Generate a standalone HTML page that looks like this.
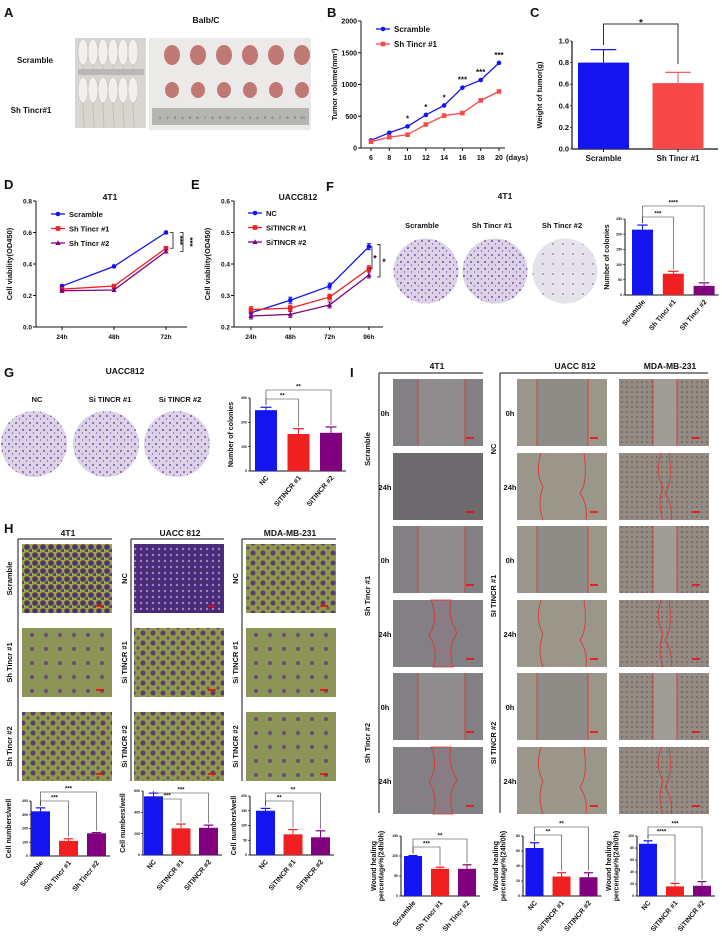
<!DOCTYPE html>
<html><head><meta charset="utf-8">
<style>
html,body{margin:0;padding:0;background:#fff;}
svg{display:block;font-family:"Liberation Sans",Arial,sans-serif;}
text{font-weight:bold;fill:#111;}
</style></head>
<body>
<svg id="fig" width="722" height="939" viewBox="0 0 722 939" xmlns="http://www.w3.org/2000/svg">
<defs>
<pattern id="dots" width="7" height="7" patternUnits="userSpaceOnUse"><rect width="7" height="7" fill="#dcd2e6"/><circle cx="2" cy="3" r="0.9" fill="#5a2a9a"/><circle cx="5.5" cy="6" r="0.6" fill="#6a3aaa"/></pattern>
<pattern id="dotsSparse" width="10" height="10" patternUnits="userSpaceOnUse"><rect width="10" height="10" fill="#e6e2ea"/><circle cx="3" cy="4" r="0.7" fill="#6a4aa0"/></pattern>
<pattern id="cellsDense" width="8" height="8" patternUnits="userSpaceOnUse"><rect width="8" height="8" fill="#8fae3a"/><circle cx="3" cy="3" r="2.8" fill="#5a2a7a"/><circle cx="7" cy="7" r="2.2" fill="#6a3a8a"/></pattern>
<pattern id="cellsMid" width="10" height="10" patternUnits="userSpaceOnUse"><rect width="10" height="10" fill="#8e9a4a"/><circle cx="3" cy="3" r="2.5" fill="#5c3a7a"/><circle cx="8" cy="8" r="1.6" fill="#6a4a80"/></pattern>
<pattern id="cellsSparse" width="14" height="14" patternUnits="userSpaceOnUse"><rect width="14" height="14" fill="#8c9458"/><circle cx="4" cy="5" r="2" fill="#6a4a78"/></pattern>
<pattern id="cellsPurple" width="6" height="6" patternUnits="userSpaceOnUse"><rect width="6" height="6" fill="#4a2a7a"/><circle cx="3" cy="3" r="1.2" fill="#9a8ab0"/></pattern>
<pattern id="speck" width="5" height="5" patternUnits="userSpaceOnUse"><rect width="5" height="5" fill="#948c84"/><circle cx="2" cy="2" r="0.8" fill="#5a5048"/></pattern>
</defs>
<g id="root"></g>
</svg>
<script>
// ---------- DATA ----------
const bDays = [6,8,10,12,14,16,18,20];
const bScramble = [120,240,340,520,670,950,1070,1340];
const bSh = [100,170,210,370,510,550,750,890];
const bStars = ["","","*","*","*","***","***","***"];
const bYTicks = [0,500,1000,1500,2000];

const cCats = ["Scramble","Sh Tincr #1"];
const cVals = [0.80,0.61];
const cErr = [0.12,0.10];
const cTicks = ["0.0","0.2","0.4","0.6","0.8","1.0"];

const dCats = ["24h","48h","72h"];
const dScramble = [0.26,0.385,0.60];
const dSh1 = [0.24,0.26,0.50];
const dSh2 = [0.23,0.235,0.48];
const dTicks = ["0.0","0.2","0.4","0.6","0.8"];

const eCats = ["24h","48h","72h","96h"];
const eNC = [0.245,0.285,0.33,0.455];
const eSi1 = [0.255,0.26,0.295,0.385];
const eSi2 = [0.235,0.24,0.27,0.365];
const eTicks = ["0.2","0.3","0.4","0.5","0.6"];

const fCats = ["Scramble","Sh Tincr #1","Sh Tincr #2"];
const fVals = [215,70,30];
const fErr = [15,8,10];
const fTicks = [0,50,100,150,200,250];

const gCats = ["NC","SiTINCR #1","SiTINCR #2"];
const gVals = [250,152,157];
const gErr = [12,22,24];
const gTicks = [0,100,200,300];

const h1Cats = ["Scramble","Sh Tincr #1","Sh Tincr #2"];
const h1Vals = [325,110,165];
const h1Err = [25,15,5];
const h1Ticks = [0,100,200,300,400];
const h2Cats = ["NC","SiTINCR #1","SiTINCR #2"];
const h2Vals = [550,250,255];
const h2Err = [30,40,25];
const h2Ticks = [0,200,400,600];
const h3Cats = ["NC","SiTINCR #1","SiTINCR #2"];
const h3Vals = [150,70,60];
const h3Err = [8,16,22];
const h3Ticks = [0,50,100,150,200];

const i1Cats = ["Scramble","Sh Tincr #1","Sh Tincr #2"];
const i1Vals = [100,68,68];
const i1Err = [1,4,10];
const i1Ticks = [0,50,100,150];
const i2Cats = ["NC","SiTINCR #1","SiTINCR #2"];
const i2Vals = [64,26,25];
const i2Err = [7,5,6];
const i2Ticks = [0,20,40,60,80];
const i3Cats = ["NC","SiTINCR #1","SiTINCR #2"];
const i3Vals = [87,16,17];
const i3Err = [5,5,7];
const i3Ticks = [0,20,40,60,80,100];

const BLUE="#1414f0", RED="#f02020", PURPLE="#800080", LRED="#f84848";
const NS="http://www.w3.org/2000/svg";
const root=document.getElementById('root');
function el(tag,attrs,parent,txt){const e=document.createElementNS(NS,tag);for(const k in attrs)e.setAttribute(k,attrs[k]);if(txt!==undefined)e.textContent=txt;(parent||root).appendChild(e);return e;}
function grp(name,parent){const g=el('g',{},parent);


return g;}
function txt(g,x,y,s,size,anchor,extra){const t=el('text',Object.assign({x:x,y:y,'font-size':size,'text-anchor':anchor||'middle'},extra||{}),g,s);return t;}
function line(g,x1,y1,x2,y2,c,w){return el('line',{x1,x2,y1,y2,stroke:c||'#111','stroke-width':w||1},g);}

// panel letters
[["A",4,17],["B",327,17],["C",530,17],["D",4,189],["E",191,189],["F",326,191],["G",4,377],["H",4,533],["I",350,377]].forEach(p=>{
 const t=txt(root,p[1],p[2],p[0],13,'start');
 
 
});

// ---------- Panel A (photos) ----------
(function(){
 const g=grp('panel-a-photos');
 txt(g,206,23,"Balb/C",8.5);
 txt(g,35,63,"Scramble",8);
 txt(g,31,113,"Sh Tincr#1",8);
 const m=el('rect',{x:75,y:38,width:71,height:90,fill:'#d9d6d2'},g);
 
 
 for(let r=0;r<2;r++)for(let i=0;i<6;i++){el('ellipse',{cx:83+i*10,cy:52+r*38,rx:5,ry:13,fill:'#f2f0ec',stroke:'#aaa','stroke-width':0.4},g);el('line',{x1:83+i*10,y1:65+r*38,x2:84+i*10,y2:(r?128:76),stroke:'#c8b8b0','stroke-width':0.8},g);}
 el('rect',{x:78,y:69,width:66,height:6,fill:'#b8b8b8'},g);
 const t=el('rect',{x:149,y:38,width:162,height:92,fill:'#eceae8'},g);
 
 
 for(let r=0;r<2;r++)for(let i=0;i<6;i++){el('ellipse',{cx:172+i*26,cy:r?90:55,rx:r?7:8,ry:r?8:10,fill:'#c07874'},g);}
 el('rect',{x:152,y:108,width:157,height:17,fill:'#b4b4b0'},g);
 for(let i=0;i<20;i++)txt(g,160+i*7.5,119,String((i%10)+1),4,'middle',{style:'font-weight:normal;fill:#555'});
})();

// ---------- Line chart helper ----------
function lineChart(name,opt){
 const g=grp(name);
 const ys=v=>opt.y0-(v-opt.vmin)/(opt.vmax-opt.vmin)*(opt.y0-opt.yTop);
 const xs=i=>opt.xFirst+i*opt.xStep;
 line(g,opt.axX,opt.yTop,opt.axX,opt.y0);
 line(g,opt.axX,opt.y0,opt.axEnd,opt.y0);
 opt.ticks.forEach((tk,i)=>{const v=opt.vmin+i*(opt.vmax-opt.vmin)/(opt.ticks.length-1);const y=ys(v);line(g,opt.axX-3,y,opt.axX,y);txt(g,opt.axX-4,y+2.5,tk,opt.tfs||7,'end');});
 opt.cats.forEach((c,i)=>{line(g,xs(i),opt.y0,xs(i),opt.y0+3);txt(g,xs(i),opt.y0+12,c,opt.tfs||7.5);});
 if(opt.xExtra) opt.xExtra.forEach(x=>line(g,x,opt.y0,x,opt.y0+3));
 opt.series.forEach(s=>{
  const sg=grp('series-'+s.key,g);
  const pts=s.vals.map((v,i)=>xs(i)+','+ys(v)).join(' ');
  el('polyline',{points:pts,fill:'none',stroke:s.color,'stroke-width':1.3},sg);
  s.vals.forEach((v,i)=>{
   if(s.err){line(sg,xs(i),ys(v)-s.err,xs(i),ys(v)+s.err,s.color,1);line(sg,xs(i)-2,ys(v)-s.err,xs(i)+2,ys(v)-s.err,s.color,1);line(sg,xs(i)-2,ys(v)+s.err,xs(i)+2,ys(v)+s.err,s.color,1);}
   let m;
   if(s.shape==='sq') m=el('rect',{x:xs(i)-2.3,y:ys(v)-2.3,width:4.6,height:4.6,fill:s.color},sg);
   else if(s.shape==='tri') m=el('polygon',{points:`${xs(i)},${ys(v)-2.8} ${xs(i)-2.6},${ys(v)+2} ${xs(i)+2.6},${ys(v)+2}`,fill:s.color},sg);
   else m=el('circle',{cx:xs(i),cy:ys(v),r:2.3,fill:s.color},sg);
   
   
  });
 });
 // legend
 opt.series.forEach((s,i)=>{
  const ly=opt.legY+i*opt.legStep;
  const lg=grp('legend-entry-'+s.key,g);
  line(lg,opt.legX-7,ly,opt.legX+7,ly,s.color,1.3);
  if(s.shape==='sq') el('rect',{x:opt.legX-2.3,y:ly-2.3,width:4.6,height:4.6,fill:s.color},lg);
  else if(s.shape==='tri') el('polygon',{points:`${opt.legX},${ly-2.8} ${opt.legX-2.6},${ly+2} ${opt.legX+2.6},${ly+2}`,fill:s.color},lg);
  else el('circle',{cx:opt.legX,cy:ly,r:2.3,fill:s.color},lg);
  txt(lg,opt.legX+11,ly+3,s.label,opt.lfs||8,'start');
 });
 const yt=txt(g,opt.ytX,(opt.yTop+opt.y0)/2,opt.ytitle,opt.ytfs||8,'middle',{transform:`rotate(-90 ${opt.ytX} ${(opt.yTop+opt.y0)/2})`});
 
 
 return {g,xs,ys};
}

// Panel B
(function(){
 const r=lineChart('panel-b-tumor-volume',{axX:361,yTop:21,y0:148,axEnd:505,vmin:0,vmax:2000,ticks:bYTicks.map(String),tfs:7,
  cats:bDays.map(String),xFirst:371,xStep:(499-371)/7,
  series:[{key:'scramble',label:'Scramble',vals:bScramble,color:BLUE,shape:'c'},{key:'sh-tincr-1',label:'Sh Tincr #1',vals:bSh,color:LRED,shape:'sq'}],
  legX:383,legY:29,legStep:15,ytX:337,ytitle:'Tumor volume(mm³)',ytfs:7.5});
 txt(r.g,506,160,'(days)',7.5,'start');
 bStars.forEach((s,i)=>{if(s)txt(r.g,r.xs(i),r.ys(bScramble[i])-5,s,8);});
})();

// Panel D
(function(){
 const r=lineChart('panel-d-4t1-viability',{axX:36,yTop:201,y0:327,axEnd:187,vmin:0,vmax:0.8,ticks:dTicks,tfs:6.5,
  cats:dCats,xFirst:62,xStep:52,
  series:[{key:'scramble',label:'Scramble',vals:dScramble,color:BLUE,shape:'c',err:1.2},{key:'sh-tincr-1',label:'Sh Tincr #1',vals:dSh1,color:RED,shape:'sq',err:1.5},{key:'sh-tincr-2',label:'Sh Tincr #2',vals:dSh2,color:PURPLE,shape:'tri',err:1.5}],
  legX:58,legY:214,legStep:14.5,ytX:12,ytitle:'Cell viability(OD450)',ytfs:7.5,lfs:7.5});
 txt(r.g,110,200,'4T1',8.5);
 const a=r.ys(dScramble[2]),b=r.ys(dSh1[2]),c=r.ys(dSh2[2]);
 el('polyline',{points:`170,${a} 173,${a} 173,${b} 170,${b}`,fill:'none',stroke:'#111','stroke-width':0.8},r.g);
 el('polyline',{points:`180,${a} 183,${a} 183,${c} 180,${c}`,fill:'none',stroke:'#111','stroke-width':0.8},r.g);
 txt(r.g,177,(a+b)/2,'***',8,'middle',{transform:`rotate(90 177 ${(a+b)/2})`});
 txt(r.g,187,(a+c)/2,'***',8,'middle',{transform:`rotate(90 187 ${(a+c)/2})`});
})();

// Panel E
(function(){
 const r=lineChart('panel-e-uacc812-viability',{axX:234,yTop:201,y0:327,axEnd:383,vmin:0.2,vmax:0.6,ticks:eTicks,tfs:6.5,
  cats:eCats,xFirst:251,xStep:39.3,
  series:[{key:'nc',label:'NC',vals:eNC,color:BLUE,shape:'c',err:3},{key:'sitincr-1',label:'SiTINCR #1',vals:eSi1,color:RED,shape:'sq',err:3},{key:'sitincr-2',label:'SiTINCR #2',vals:eSi2,color:PURPLE,shape:'tri',err:3}],
  legX:255,legY:213,legStep:14.5,ytX:210,ytitle:'Cell viability(OD450)',ytfs:7.5,lfs:7.5});
 txt(r.g,298,200,'UACC812',8.5);
 const a=r.ys(eNC[3]),b=r.ys(eSi1[3]),c=r.ys(eSi2[3]);
 el('polyline',{points:`369,${a} 372,${a} 372,${b} 369,${b}`,fill:'none',stroke:'#111','stroke-width':0.8},r.g);
 el('polyline',{points:`377,${a-2} 380,${a-2} 380,${c+2} 377,${c+2}`,fill:'none',stroke:'#111','stroke-width':0.8},r.g);
 txt(r.g,375,(a+b)/2+4,'*',9,'middle');
 txt(r.g,384,(a+c)/2+4,'*',9,'middle');
})();

// ---------- Bar chart helper ----------
function barChart(name,o){
 const g=grp(name);
 const ys=v=>o.y0-v/o.vmax*(o.y0-o.yTop);
 const xc=i=>o.xFirst+i*o.step;
 line(g,o.axX,o.yTop,o.axX,o.y0,'#111',o.aw||1);
 line(g,o.axX,o.y0,o.axEnd||(xc(o.vals.length-1)+o.w/2+4),o.y0,'#111',o.aw||1);
 o.ticks.forEach((tk,i)=>{const v=o.vmin0!==undefined?0:0;const val=i*o.vmax/(o.ticks.length-1);const y=ys(val);line(g,o.axX-2,y,o.axX,y,'#111',0.7);txt(g,o.axX-3,y+o.tfs/3,String(tk),o.tfs,'end');});
 o.vals.forEach((v,i)=>{
  const col=o.colors[i];
  const b=el('rect',{x:xc(i)-o.w/2,y:ys(v),width:o.w,height:o.y0-ys(v),fill:col},g);
  
  
  const e=ys(v+o.err[i]);
  line(g,xc(i),ys(v),xc(i),e,col,1);line(g,xc(i)-o.w/4,e,xc(i)+o.w/4,e,col,1.2);
  if(o.rot){txt(g,xc(i)+3,o.y0+7,o.cats[i],o.lfs,'end',{transform:`rotate(-50 ${xc(i)+3} ${o.y0+7})`});}
  else{txt(g,xc(i),o.y0+12,o.cats[i],o.lfs,'middle');line(g,xc(i),o.y0,xc(i),o.y0+3);}
 });
 (o.brackets||[]).forEach(br=>{
  const x1=xc(0),x2=xc(br.to),y=br.y;
  el('polyline',{points:`${x1},${ys(o.vals[0]+o.err[0])-2} ${x1},${y} ${x2},${y} ${x2},${ys(o.vals[br.to]+o.err[br.to])-2}`,fill:'none',stroke:'#333','stroke-width':o.bw||0.6},g);
  txt(g,(x1+x2)/2,y-1.5,br.s,o.sfs||6);
 });
 const cy=(o.yTop+o.y0)/2;
 o.ytitle.forEach((t,k)=>{const x=o.ytX+k*o.ytfs*1.1;txt(g,x,cy,t,o.ytfs,'middle',{transform:`rotate(-90 ${x} ${cy})`});});
 return {g,xc,ys};
}
const C3=[BLUE,RED,PURPLE];

// Panel C
(function(){
 const r=barChart('panel-c-tumor-weight',{axX:572,yTop:41,y0:149,axEnd:718,vmax:1.0,ticks:cTicks,tfs:7.5,vals:cVals,err:cErr,cats:cCats,colors:[BLUE,LRED],
  xFirst:603.5,step:74.5,w:51,lfs:8,ytitle:['Weight of tumor(g)'],ytX:542,ytfs:7.5,aw:1.2});
 el('polyline',{points:`603.5,45 603.5,24 678,24 678,64`,fill:'none',stroke:'#333','stroke-width':1},r.g);
 txt(r.g,641,26,'*',10);
})();

// Panel F
(function(){
 const g=grp('panel-f-plates');
 txt(g,505,199,'4T1',8.5);
 ["Scramble","Sh Tincr #1","Sh Tincr #2"].forEach((s,i)=>txt(g,[422,492,562][i],228,s,7.5));
 [[426,'dots'],[495,'dots'],[565,'dotsSparse']].forEach((p,i)=>{const c=el('circle',{cx:p[0],cy:271,r:32.5,fill:`url(#${p[1]})`},g);
  
  });
 barChart('panel-f-colonies',{axX:625,yTop:219,y0:295,vmax:250,ticks:fTicks,tfs:3.5,vals:fVals,err:fErr,cats:fCats,colors:C3,
  xFirst:642.5,step:30.8,w:21,lfs:7,rot:true,ytitle:['Number of colonies'],ytX:609,ytfs:7,
  brackets:[{to:1,y:217,s:'***'},{to:2,y:206,s:'****'}]});
})();

// Panel G
(function(){
 const g=grp('panel-g-plates');
 txt(g,125,374,'UACC812',8.5);
 ["NC","Si TINCR #1","Si TINCR #2"].forEach((s,i)=>txt(g,[37,110,180][i],402,s,7.5));
 [34,106,177].forEach((x,i)=>{const c=el('circle',{cx:x,cy:444,r:33,fill:'url(#dots)'},g);
  
  });
 barChart('panel-g-colonies',{axX:250,yTop:398,y0:471,vmax:300,ticks:gTicks,tfs:3.5,vals:gVals,err:gErr,cats:gCats,colors:C3,
  xFirst:266,step:32.5,w:22,lfs:7,rot:true,ytitle:['Number of colonies'],ytX:233,ytfs:7,
  brackets:[{to:1,y:399,s:'**'},{to:2,y:390,s:'**'}]});
})();

// Panel H images
(function(){
 const g=grp('panel-h-transwell-images');
 const cols=[{x:22,t:'4T1',tx:68,lx:12,fx:18,labs:['Scramble','Sh Tincr #1','Sh Tincr #2'],fills:['cellsDense','cellsSparse','cellsMid']},
  {x:134,t:'UACC 812',tx:180,lx:127,fx:131,labs:['NC','Si TINCR #1','Si TINCR #2'],fills:['cellsPurple','cellsMid','cellsMid']},
  {x:246,t:'MDA-MB-231',tx:290,lx:238,fx:242,labs:['NC','Si TINCR #1','Si TINCR #2'],fills:['cellsMid','cellsSparse','cellsSparse']}];
 const rows=[544,628,712];
 cols.forEach((c,ci)=>{
  txt(g,c.tx,536,c.t,8.5);
  line(g,c.fx,539,c.x+90,539,'#111',1);line(g,c.fx,539,c.fx,781,'#111',1);
  rows.forEach((y,ri)=>{
   const r=el('rect',{x:c.x,y:y,width:90,height:69,fill:`url(#${c.fills[ri]})`},g);
   
   
   line(g,c.x+74,y+62,c.x+82,y+62,'#f00',1.5);
   txt(g,c.lx,y+34.5,c.labs[ri],7.5,'middle',{transform:`rotate(-90 ${c.lx} ${y+34.5})`});
  });
 });
})();
barChart('panel-h-4t1-bars',{axX:31,yTop:801,y0:856,vmax:400,ticks:h1Ticks,tfs:3.5,vals:h1Vals,err:h1Err,cats:h1Cats,colors:C3,xFirst:40.5,step:28,w:19,lfs:7,rot:true,ytitle:['Cell numbers/well'],ytX:11,ytfs:7,brackets:[{to:1,y:801,s:'***'},{to:2,y:792,s:'***'}]});
barChart('panel-h-uacc812-bars',{axX:143,yTop:791,y0:855,vmax:600,ticks:h2Ticks,tfs:3.5,vals:h2Vals,err:h2Err,cats:h2Cats,colors:C3,xFirst:153.5,step:27.5,w:19,lfs:7,rot:true,ytitle:['Cell numbers/well'],ytX:125,ytfs:7,brackets:[{to:1,y:799,s:'***'},{to:2,y:793,s:'***'}]});
barChart('panel-h-mda-bars',{axX:250,yTop:796,y0:855,vmax:200,ticks:h3Ticks,tfs:3.5,vals:h3Vals,err:h3Err,cats:h3Cats,colors:C3,xFirst:265.5,step:27.5,w:19,lfs:7,rot:true,ytitle:['Cell numbers/well'],ytX:236,ytfs:7,brackets:[{to:1,y:801,s:'**'},{to:2,y:793,s:'**'}]});

// Panel I images
(function(){
 const g=grp('panel-i-wound-images');
 const rows=[379,453,526,600,673,747];
 const cols=[{x:393,t:'4T1',tx:437,gap:[418,465],fx:379,fe:483,base:'#828084',gapc:'#8e8c8c',heal:'#7a7278',lx:370,tl:385,labs:['Scramble','Sh Tincr #1','Sh Tincr #2']},
  {x:517,t:'UACC 812',tx:575,gap:[537,588],fx:500,fe:708,base:'#9a968a',gapc:'#8f8c88',heal:'#8e8c8c',lx:496,tl:510,labs:['NC','SI TINCR #1','SI TINCR #2']},
  {x:619,t:'MDA-MB-231',tx:670,gap:[653,677],base:'url(#speck)',gapc:'#a09c98',heal:'#9a948e'}];
 cols.forEach((c,ci)=>{
  txt(g,c.tx,369,c.t,8.5);
  if(c.fx!==undefined){line(g,c.fx,373,c.fe,373,'#111',1);line(g,c.fx,373,c.fx,813,'#111',1);}
  rows.forEach((y,ri)=>{
   const r=el('rect',{x:c.x,y:y,width:90,height:67,fill:c.base},g);
   
   
   const is0=ri%2===0;
   if(is0){el('rect',{x:c.gap[0],y:y,width:c.gap[1]-c.gap[0],height:67,fill:c.gapc},g);
    line(g,c.gap[0],y,c.gap[0],y+67,'#e03030',0.8);line(g,c.gap[1],y,c.gap[1],y+67,'#e03030',0.8);}
   else if(ci===0&&ri>1){el('path',{d:`M${c.x+38},${y} q8,20 -2,35 q10,15 4,32 l20,0 q-6,-20 4,-34 q-10,-18 -6,-33z`,fill:'#8a7c84',stroke:'#e03030','stroke-width':0.8},g);}
   else if(ci===0){r.setAttribute('fill','#6e6a6e');}
   else{const m=(c.gap[0]+c.gap[1])/2,h=ci===1?(c.gap[1]-c.gap[0])/2-4:4;
    el('path',{d:`M${m-h},${y} q-6,20 2,34 q-6,16 0,33 M${m+h},${y} q4,30 -4,40 q8,12 6,27`,fill:'none',stroke:'#e03030','stroke-width':0.8},g);}
   line(g,c.x+73,y+59,c.x+81,y+59,'#f00',1.5);
   if(c.tl) txt(g,c.tl,y+37,is0?'0h':'24h',7.5);
  });
  if(c.lx) c.labs.forEach((s,k)=>{const cy=rows[k*2]+70;txt(g,c.lx,cy,s,7.5,'middle',{transform:`rotate(-90 ${c.lx} ${cy})`});});
 });
})();
barChart('panel-i-4t1-bars',{axX:401,yTop:836,y0:896,vmax:150,ticks:i1Ticks,tfs:3.5,vals:i1Vals,err:i1Err,cats:i1Cats,colors:C3,xFirst:413,step:27,w:18,lfs:7,rot:true,ytitle:['Wound healing','percentage%(24h/0h)'],ytX:376,ytfs:7,brackets:[{to:1,y:847,s:'***'},{to:2,y:839,s:'**'}]});
barChart('panel-i-uacc812-bars',{axX:523,yTop:836,y0:896,vmax:80,ticks:i2Ticks,tfs:3.5,vals:i2Vals,err:i2Err,cats:i2Cats,colors:C3,xFirst:534.5,step:27,w:18,lfs:7,rot:true,ytitle:['Wound healing','percentage%(24h/0h)'],ytX:498,ytfs:7,brackets:[{to:1,y:835,s:'**'},{to:2,y:827,s:'**'}]});
barChart('panel-i-mda-bars',{axX:637,yTop:836,y0:896,vmax:100,ticks:i3Ticks,tfs:3.5,vals:i3Vals,err:i3Err,cats:i3Cats,colors:C3,xFirst:648,step:27,w:18,lfs:7,rot:true,ytitle:['Wound healing','percentage%(24h/0h)'],ytX:611,ytfs:7,brackets:[{to:1,y:835,s:'****'},{to:2,y:827,s:'***'}]});
</script>
</body></html>
